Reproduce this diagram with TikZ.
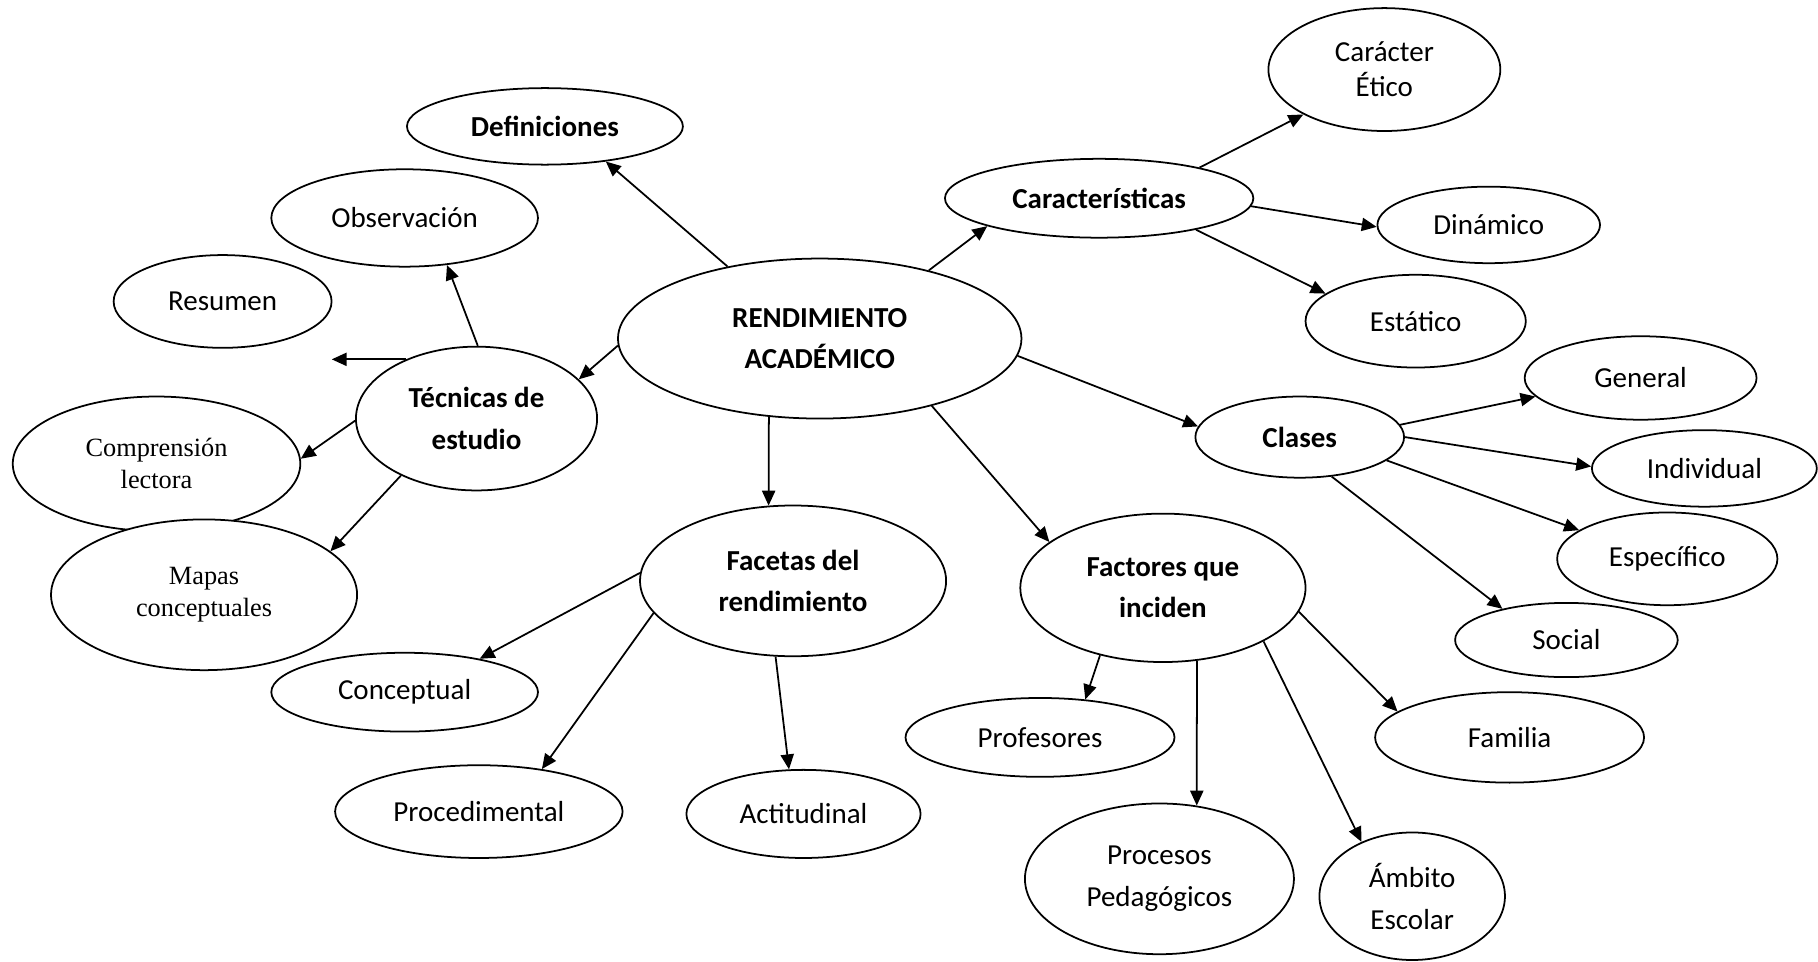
\documentclass[tikz,border=0pt]{standalone}
\usepackage{fontspec}
\setmainfont{Carlito}
\newfontfamily\serifa{Liberation Serif}
\usepackage{tikz}
\usetikzlibrary{shapes.geometric}
\usetikzlibrary{calc,arrows.meta}

\begin{document}
\begin{tikzpicture}[x=0.02319cm, y=-0.02319cm]
    % Define the styles of the bubbles and arrows
    \tikzset{
        burbuja/.style={draw, ellipse, fill=white, line width=1pt, inner sep=0pt, align=center,
            font=\fontsize{16.5}{23.7}\selectfont},
        negrita/.style={font=\bfseries\fontsize{16.5}{23.7}\selectfont},
        romana/.style={font=\serifa\fontsize{15}{18}\selectfont},
        tam/.style 2 args={minimum width={#1*0.02319cm}, minimum height={#2*0.02319cm}},
        flecha/.style={line width=1pt, -{Triangle[length=8.5pt, width=7.5pt]}}
    }
    \useasboundingbox (0,0) rectangle (1568,829);

    % Draw the central node
    \node[burbuja, negrita, tam={348}{138}] (rend) at (707,292) {RENDIMIENTO\\ACADÉMICO};

    % Draw the left branch
    \node[burbuja, negrita, tam={238}{66}] (def) at (470,109) {Definiciones};
    \node[burbuja, negrita, tam={208}{124}] (tec) at (411,361) {Técnicas de\\estudio};
    \node[burbuja, tam={230}{84}] (obs) at (349,188) {Observación};
    \node[burbuja, tam={188}{80}] (res) at (192,260) {Resumen};
    \node[burbuja, romana, tam={248}{116}] (comp) at (135,400) {Comprensión\\lectora};
    \node[burbuja, romana, tam={264}{130}] (mapas) at (176,513) {Mapas\\conceptuales};

    % Draw the upper right branch
    \node[burbuja, negrita, tam={266}{68}] (car) at (948,171) {Características};
    \node[burbuja, tam={200}{106}, font=\fontsize{16.5}{20}\selectfont] (etico) at (1194,60) {Carácter\\Ético};
    \node[burbuja, tam={192}{66}] (din) at (1284,194) {Dinámico};
    \node[burbuja, tam={190}{80}] (est) at (1221,277) {Estático};

    % Draw the classes
    \node[burbuja, negrita, tam={180}{70}] (clases) at (1121,377) {Clases};
    \node[burbuja, tam={200}{72}] (gen) at (1415,326) {General};
    \node[burbuja, tam={194}{66}] (ind) at (1470,404) {Individual};
    \node[burbuja, tam={190}{80}] (esp) at (1438,482) {Específico};
    \node[burbuja, tam={192}{64}] (soc) at (1351,552) {Social};

    % Draw the facets
    \node[burbuja, negrita, tam={264}{130}] (fac) at (684,501) {Facetas del\\rendimiento};
    \node[burbuja, tam={230}{68}] (conc) at (349,597) {Conceptual};
    \node[burbuja, tam={248}{80}] (proc) at (413,700) {Procedimental};
    \node[burbuja, tam={202}{76}] (act) at (693,702) {Actitudinal};

    % Draw the factors
    \node[burbuja, negrita, tam={246}{128}] (fact) at (1003,507) {Factores que\\inciden};
    \node[burbuja, tam={232}{68}] (prof) at (897,636) {Profesores};
    \node[burbuja, tam={232}{78}] (fam) at (1302,636) {Familia};
    \node[burbuja, tam={232}{130}] (ped) at (1000,758) {Procesos\\Pedagógicos};
    \node[burbuja, tam={160}{110}] (amb) at (1218,773) {Ámbito\\Escolar};

    % Draw the arrows
    \draw[flecha] (rend.142.2) -- (def.-30);
    \draw[flecha] (rend.182.3) -- (tec.21.2);
    \draw[flecha] (tec.89) -- (obs.-48.1);
    \coordinate (suelto) at ($(tec.140.8)+(-64,0)$);
    \draw[flecha] (tec.140.8) -- (suelto);
    \draw[flecha] (tec.181.1) -- (comp.2.3);
    \draw[flecha] (tec.217) -- (mapas.19.3);
    \draw[flecha] (rend.32.9) -- (car.194.5);
    \draw[flecha] (car.17.2) -- (etico.209.5);
    \draw[flecha] (car.-3.9) -- (din.181.9);
    \draw[flecha] (car.-18.2) -- (est.163.2);
    \draw[flecha] (rend.-5.7) -- (clases.174.4);
    \draw[flecha] (clases.7) -- (gen.190.1);
    \draw[flecha] (clases.-0.6) -- (ind.179.4);
    \draw[flecha] (clases.-15.8) -- (esp.162.4);
    \draw[flecha] (clases.-51.5) -- (soc.154.3);
    \draw[flecha] (rend.-123.4) -- (fac.108.1);
    \draw[flecha] (rend.-31.1) -- (fact.158.5);
    \draw[flecha] (fac.177) -- (conc.24.1);
    \draw[flecha] (fac.193.7) -- (proc.34.6);
    \draw[flecha] (fac.257.8) -- (act.108);
    \draw[flecha] (fact.227.1) -- (prof.40.1);
    \draw[flecha] (fact.-65.8) -- (ped.63.6);
    \draw[flecha] (fact.-28) -- (amb.133.1);
    \draw[flecha] (fact.-10.3) -- (fam.167.1);
\end{tikzpicture}
\end{document}
